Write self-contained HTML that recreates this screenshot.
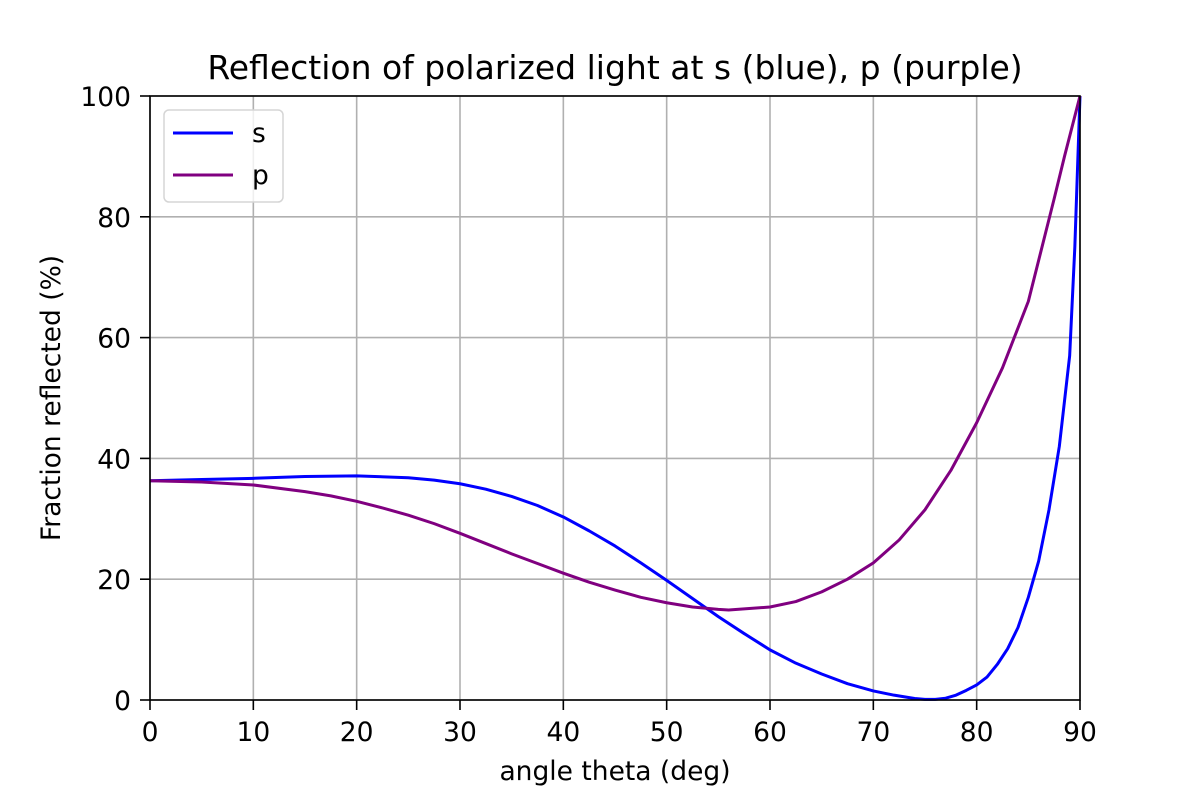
<!DOCTYPE html>
<html><head><meta charset="utf-8"><style>
body{margin:0;background:#fff;}
svg text{font-family:"DejaVu Sans","Liberation Sans",sans-serif;fill:#000;}
</style></head><body>
<svg id="chart" width="1200" height="800" xmlns="http://www.w3.org/2000/svg">
<rect width="1200" height="800" fill="#fff"/>
<g id="grid"></g>
<g id="ticks"></g>
<g id="series"></g>
<rect x="150" y="96" width="930" height="604" fill="none" stroke="#000" stroke-width="1.6"/>
<text x="615" y="79" font-size="33" text-anchor="middle">Reflection of polarized light at s (blue), p (purple)</text>
<text x="615" y="780" font-size="26.5" text-anchor="middle">angle theta (deg)</text>
<text transform="translate(60,398) rotate(-90)" font-size="26.5" text-anchor="middle">Fraction reflected (%)</text>
<g>
<rect x="164" y="110" width="119" height="92" rx="5" fill="#fff" fill-opacity="0.8" stroke="#d5d5d5" stroke-width="1.5"/>
<line x1="173" y1="133" x2="233" y2="133" stroke="#0000ff" stroke-width="3"/>
<text x="252" y="142" font-size="26.5">s</text>
<line x1="173" y1="175" x2="233" y2="175" stroke="#800080" stroke-width="3"/>
<text x="252" y="184" font-size="26.5">p</text>
</g>
</svg>
<script>
const xTicks=[0,10,20,30,40,50,60,70,80,90];
const yTicks=[0,20,40,60,80,100];
const sAngles=[0,5,10,15,20,25,27.5,30,32.5,35,37.5,40,42.5,45,47.5,50,52.5,55,57.5,60,62.5,65,67.5,70,72,74,75,76,77,78,79,80,81,82,83,84,85,86,87,88,89,89.5,90];
const sValues=[36.3,36.5,36.7,37,37.1,36.8,36.4,35.8,34.9,33.7,32.2,30.3,28,25.5,22.7,19.8,16.8,13.8,11,8.3,6.1,4.3,2.7,1.5,0.8,0.25,0.1,0.1,0.3,0.8,1.6,2.5,3.8,5.9,8.5,12,17,23,31.5,42,57,75,100];
const pAngles=[0,5,10,15,17.5,20,22.5,25,27.5,30,32.5,35,37.5,40,42.5,45,47.5,50,52.5,55,56,60,62.5,65,67.5,70,72.5,75,77.5,80,82.5,85,87.5,88.5,90];
const pValues=[36.3,36.1,35.6,34.5,33.8,32.9,31.8,30.6,29.2,27.6,25.9,24.2,22.6,21,19.5,18.2,17,16.1,15.4,15,14.9,15.4,16.3,17.9,20,22.7,26.5,31.5,38,45.9,55,66,83,90,100];
const X=v=>150+v/90*930, Y=v=>700-v/100*604;
const NS="http://www.w3.org/2000/svg";
const grid=document.getElementById('grid'),ticks=document.getElementById('ticks'),ser=document.getElementById('series');
function mk(t,a,p){const e=document.createElementNS(NS,t);for(const k in a)e.setAttribute(k,a[k]);p.appendChild(e);return e;}
xTicks.forEach(t=>{
 const g=mk('line',{x1:X(t),x2:X(t),y1:96,y2:700,stroke:'#b0b0b0','stroke-width':1.6},grid);
 
 
 const tk=mk('line',{x1:X(t),x2:X(t),y1:700,y2:710,stroke:'#000','stroke-width':1.6},ticks);
 
 
 const l=mk('text',{x:X(t),y:741,'font-size':26.5,'text-anchor':'middle'},ticks);l.textContent=t;
 
 
});
yTicks.forEach(t=>{
 const g=mk('line',{x1:150,x2:1080,y1:Y(t),y2:Y(t),stroke:'#b0b0b0','stroke-width':1.6},grid);
 
 
 const tk=mk('line',{x1:140,x2:150,y1:Y(t),y2:Y(t),stroke:'#000','stroke-width':1.6},ticks);
 
 
 const l=mk('text',{x:131,y:Y(t)+10,'font-size':26.5,'text-anchor':'end'},ticks);l.textContent=t;
 
 
});
function line(xs,ys,c,name){
 const pts=xs.map((x,i)=>X(x)+','+Y(ys[i])).join(' ');
 const e=mk('polyline',{points:pts,fill:'none',stroke:c,'stroke-width':3,'stroke-linejoin':'round'},ser);
 
 
}
line(sAngles,sValues,'#0000ff','s-curve');
line(pAngles,pValues,'#800080','p-curve');
</script>
</body></html>
